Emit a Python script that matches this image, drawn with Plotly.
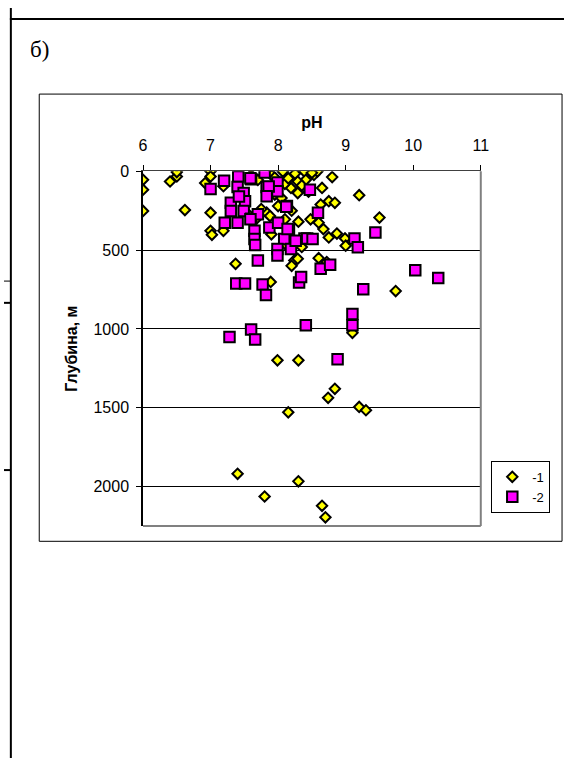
import plotly.graph_objects as go

# ---------------- data ----------------
ph_1 = [6.0, 6.0, 6.0, 6.4, 6.5, 6.5, 6.62, 7.0, 7.0, 6.92, 7.0, 7.0, 7.02, 7.19, 7.19,
        7.37, 7.89, 7.99, 8.30, 8.15, 7.40, 7.80, 8.30, 8.65, 8.70, 8.84, 8.74, 9.20, 9.30,
        9.10, 9.74, 8.07, 8.22, 8.39, 8.41, 8.53, 8.58, 8.80, 8.65, 8.29, 8.19, 8.29, 7.90,
        7.95, 8.00, 8.75, 8.84, 8.63, 7.83, 7.88, 8.48, 8.60, 8.67, 8.75, 8.87, 8.99, 9.00,
        8.10, 8.24, 8.29, 8.60, 8.72, 8.20, 9.20, 9.50, 7.60, 7.70, 8.10, 8.15, 8.35, 8.45,
        8.05, 7.75, 7.55, 8.20, 8.30, 7.90, 8.10, 8.35, 7.68, 8.50, 8.25, 7.95]
depth_1 = [54, 117, 252, 65, 33, 5, 246, 0, 33, 75, 263, 378, 403, 378, 95,
           587, 702, 1199, 1199, 1529, 1919, 2063, 1967, 2122, 2195, 1380, 1437, 1495, 1516,
           1025, 760, 2, 33, 2, 54, 23, 2, 37, 106, 65, 106, 138, 23,
           148, 221, 190, 200, 211, 263, 284, 305, 326, 367, 420, 395, 426, 472,
           305, 566, 555, 551, 576, 600, 152, 294, 25, 55, 80, 45, 90, 130,
           170, 240, 270, 250, 320, 400, 460, 480, 300, 10, 15, 40]

ph_2 = [7.20, 7.00, 7.41, 7.40, 7.60, 7.80, 7.83, 7.99, 7.99, 7.49, 7.30, 7.30, 7.51, 7.49,
        7.21, 7.40, 7.60, 7.70, 7.65, 7.65, 7.66, 7.87, 8.00, 8.13, 8.16, 8.09, 7.99, 7.99,
        8.19, 8.39, 8.43, 8.51, 8.26, 7.70, 7.38, 7.51, 7.77, 7.82, 8.31, 8.34, 9.26, 10.37,
        10.03, 9.10, 9.10, 8.41, 8.88, 7.60, 7.28, 7.66, 8.47, 8.12, 8.59, 9.44, 9.13, 9.18,
        8.63, 8.77, 7.59, 7.86, 7.83, 7.59, 8.14, 7.42]
depth_2 = [60, 113, 33, 100, 50, 8, 100, 71, 127, 138, 200, 252, 190, 252,
           326, 326, 301, 273, 378, 430, 467, 357, 326, 221, 373, 430, 493, 534,
           493, 426, 426, 430, 440, 566, 712, 712, 718, 785, 706, 670, 749, 677,
           628, 906, 977, 977, 1192, 1004, 1052, 1067, 117, 225, 263, 388, 426, 482,
           618, 593, 44, 96, 159, 305, 367, 160]

names = ["-1", "-2"]
x_ticks = [6, 7, 8, 9, 10, 11]
y_ticks = [0, 500, 1000, 1500, 2000]

# ---------------- layout helpers ----------------
W, H = 572, 758
def px(x):
    return x / W
def py(y):
    return 1 - y / H

SANS = "Liberation Sans, Arial, sans-serif"
SERIF = "Liberation Serif, Times New Roman, serif"

fig = go.Figure()
fig.add_trace(go.Scatter(
    x=ph_1, y=depth_1, mode="markers", name=names[0],
    marker=dict(symbol="diamond", size=8, color="#FFFF00",
                line=dict(color="black", width=2)),
))
fig.add_trace(go.Scatter(
    x=ph_2, y=depth_2, mode="markers", name=names[1],
    marker=dict(symbol="square", size=10.5, color="#FF00FF",
                line=dict(color="black", width=2)),
))

shapes = [
    dict(type="line", xref="x domain", yref="y domain", x0=1, x1=1, y0=0, y1=1,
         line=dict(color="#808080", width=2)),
    dict(type="line", xref="x domain", yref="y domain", x0=0, x1=1, y0=0, y1=0,
         line=dict(color="#808080", width=2)),
    dict(type="rect", xref="paper", yref="paper", x0=px(36), x1=px(570),
         y0=py(539), y1=py(87), line=dict(color="black", width=1)),
    dict(type="line", xref="paper", yref="paper", x0=px(6), x1=1, y0=py(11), y1=py(11),
         line=dict(color="black", width=2)),
    dict(type="line", xref="paper", yref="paper", x0=px(7), x1=px(7), y0=0, y1=1,
         line=dict(color="black", width=2)),
    dict(type="line", xref="paper", yref="paper", x0=0, x1=px(7), y0=py(276), y1=py(276),
         line=dict(color="black", width=1)),
    dict(type="line", xref="paper", yref="paper", x0=0, x1=px(7), y0=py(298), y1=py(298),
         line=dict(color="black", width=2)),
    dict(type="line", xref="paper", yref="paper", x0=0, x1=px(7), y0=py(467), y1=py(467),
         line=dict(color="black", width=2)),
]

fig.update_layout(
    width=W, height=H,
    margin=dict(l=0, r=0, t=0, b=0),
    paper_bgcolor="white", plot_bgcolor="white",
    font=dict(family=SANS, color="black", size=16),
    showlegend=True,
    legend=dict(x=px(558), xanchor="right", y=py(484), yanchor="middle",
                bordercolor="black", borderwidth=1, bgcolor="white",
                font=dict(family=SANS, size=13), itemwidth=30),
    xaxis=dict(
        domain=[px(142), px(487)], side="top", range=[6, 11],
        tickvals=x_ticks, ticks="outside", ticklen=5, tickcolor="black",
        showgrid=False, zeroline=False, showline=True, linecolor="#404040", linewidth=1,
        ticklabelstandoff=8,
        tickfont=dict(size=16),
        title=dict(text="<b>pH</b>", font=dict(size=16), standoff=4),
    ),
    yaxis=dict(
        domain=[py(523.5), py(165)], range=[2250, 0],
        tickvals=y_ticks, ticks="outside", ticklen=5, tickcolor="black",
        showgrid=True, gridcolor="black", gridwidth=1,
        zeroline=False, showline=True, linecolor="black", linewidth=1.5,
        ticklabelstandoff=4,
        tickfont=dict(size=16),
        title=dict(text="<b>Глубина, м</b>", font=dict(size=16), standoff=12),
    ),
    shapes=shapes,
    annotations=[
        dict(text="б)", xref="paper", yref="paper", x=px(25), y=py(42),
             xanchor="left", yanchor="middle", showarrow=False,
             font=dict(family=SERIF, size=23, color="black")),
    ],
)

fig.write_html("out.html")
